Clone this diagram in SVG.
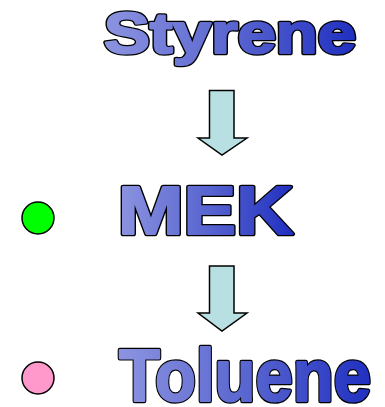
<svg xmlns="http://www.w3.org/2000/svg" width="385" height="407" viewBox="0 0 385 407">
<defs>
<linearGradient id="g" x1="0" y1="0" x2="1" y2="0">
<stop offset="0" stop-color="#8c94e0"/>
<stop offset="0.5" stop-color="#5a66d0"/>
<stop offset="1" stop-color="#2030c0"/>
</linearGradient>
</defs>
<style>
.t{font-family:"Liberation Sans",Arial,sans-serif;font-weight:bold;fill:url(#g);stroke:url(#g);stroke-width:2.2;stroke-linejoin:round}
.o{font-family:"Liberation Sans",Arial,sans-serif;font-weight:bold;fill:#000;stroke:#000;stroke-width:4.6;stroke-linejoin:round}
.a{fill:#b8e0e2;stroke:#000;stroke-width:1.5;stroke-linejoin:miter}
.b{stroke:#000;stroke-width:1.5}
</style>
<rect width="385" height="407" fill="#fff"/>
<g id="styrene">
<text class="o" x="104" y="53" font-size="57" textLength="252" lengthAdjust="spacingAndGlyphs" aria-hidden="true">Styrene</text>
<text class="t" x="104" y="53" font-size="57" textLength="252" lengthAdjust="spacingAndGlyphs">Styrene</text>
</g>
<g id="mek">
<circle class="b" cx="38" cy="218" r="16" fill="#00ff00"/>
<text class="o" x="118" y="234" font-size="68" textLength="175" lengthAdjust="spacingAndGlyphs" aria-hidden="true">MEK</text>
<text class="t" x="118" y="234" font-size="68" textLength="175" lengthAdjust="spacingAndGlyphs">MEK</text>
</g>
<g id="toluene">
<circle class="b" cx="38" cy="378" r="16" fill="#ff99cc"/>
<text class="o" x="119" y="401" font-size="75" textLength="252" lengthAdjust="spacingAndGlyphs" aria-hidden="true">Toluene</text>
<text class="t" x="119" y="401" font-size="75" textLength="252" lengthAdjust="spacingAndGlyphs">Toluene</text>
</g>
<g id="connectors">
<path class="a" d="M209.5 90.5H234V138H247L222 155L198 138H209.5Z"/>
<path class="a" d="M209.5 266H234V313H247L222 331L198 313H209.5Z"/>
</g>
</svg>
